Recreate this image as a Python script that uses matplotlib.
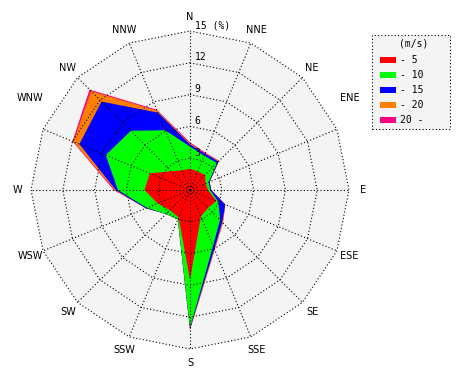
import numpy as np
import matplotlib.pyplot as plt
from matplotlib.patches import Rectangle

# ---------------------------
# Data (percent of time per direction and speed class)
# ---------------------------
directions = ["N", "NNE", "NE", "ENE", "E", "ESE", "SE", "SSE",
              "S", "SSW", "SW", "WSW", "W", "WNW", "NW", "NNW"]
speed_labels = ["- 5", "- 10", "- 15", "- 20", "20 -"]
colors = ["#ff0000", "#00ff00", "#0000ff", "#ff8000", "#ff0080"]

v_0_5 = [2.0, 1.9, 2.0, 1.6, 1.7, 2.7, 2.4, 2.7, 8.5, 2.8, 2.7, 3.3, 4.3, 4.1, 2.5, 2.0]
v_5_10 = [2.1, 1.6, 1.6, 0.3, 0.2, 0.2, 1.6, 3.0, 4.5, 0.2, 0.5, 1.1, 2.5, 4.5, 5.4, 4.1]
v_10_15 = [0.2, 0.2, 0.2, 0.1, 0.1, 0.7, 0.3, 0.3, 0.1, 0.0, 0.0, 0.1, 0.2, 2.7, 3.9, 1.8]
v_15_20 = [0.1, 0.0, 0.1, 0.0, 0.0, 0.0, 0.1, 0.1, 0.1, 0.0, 0.0, 0.0, 0.1, 0.6, 1.4, 0.2]
v_20_up = [0.1, 0.1, 0.0, 0.0, 0.0, 0.0, 0.0, 0.0, 0.0, 0.0, 0.0, 0.0, 0.1, 0.1, 0.2, 0.1]

rings = [3, 6, 9, 12, 15]

# ---------------------------
# Helpers
# ---------------------------
theta = np.deg2rad(np.arange(len(directions)) * 360.0 / len(directions))

def to_xy(r):
    r = np.asarray(r, dtype=float)
    x = r * np.sin(theta)
    y = r * np.cos(theta)
    return np.append(x, x[0]), np.append(y, y[0])

cum = np.cumsum([v_0_5, v_5_10, v_10_15, v_15_20, v_20_up], axis=0)
rmax = rings[-1]

# ---------------------------
# Figure
# ---------------------------
W, H = 470, 380
cx, cy = 190, 190
px = 159 / rmax  # pixels per percent

fig = plt.figure(figsize=(W / 100, H / 100), dpi=100)
ax = fig.add_axes([0, 0, 1, 1])
ax.set_xlim(-cx / px, (W - cx) / px)
ax.set_ylim(-(H - cy) / px, cy / px)
ax.axis("off")

# background of the rose
bx, by = to_xy(np.full(len(directions), rmax))
ax.fill(bx, by, color="#f4f4f4", lw=0, zorder=0)

# stacked speed classes, outermost first
for k in range(len(colors) - 1, -1, -1):
    x, y = to_xy(cum[k])
    ax.fill(x, y, color=colors[k], lw=0, zorder=1)

# dotted grid
dot = (0, (1, 2))
for r in rings:
    x, y = to_xy(np.full(len(directions), r))
    ax.plot(x, y, color="black", lw=0.8, ls=dot, zorder=2)
for t in theta:
    ax.plot([0, rmax * np.sin(t)], [0, rmax * np.cos(t)],
            color="black", lw=0.8, ls=dot, zorder=2)

# ring labels
for r in rings:
    lab = f"{r} (%)" if r == rmax else str(r)
    ax.text(0.45, r + 0.05, lab, fontsize=7, family="DejaVu Sans Mono",
            ha="left", va="bottom", zorder=3)

# direction labels (ENE / WNW sit higher in the original)
lab_angle = np.rad2deg(theta).copy()
lab_angle[directions.index("ENE")] = 60
lab_angle[directions.index("WNW")] = 300
lab_r = np.full(len(directions), 16.3)
lab_r[directions.index("ENE")] = 17.4
lab_r[directions.index("WNW")] = 17.4
for d, a, rr in zip(directions, np.deg2rad(lab_angle), lab_r):
    ax.text(rr * np.sin(a), rr * np.cos(a), d, fontsize=7,
            ha="center", va="center")

# ---------------------------
# Legend
# ---------------------------
def fx(p):
    return p / W

def fy(p):
    return 1 - p / H

fig.patches.append(Rectangle((fx(372), fy(129)), fx(450) - fx(372), fy(35) - fy(129),
                             transform=fig.transFigure, facecolor="#f4f4f4",
                             edgecolor="black", lw=0.8, ls=dot))
fig.text(fx(414), fy(44), "(m/s)", fontsize=7, family="DejaVu Sans Mono",
         ha="center", va="center")
for i, (lab, c) in enumerate(zip(speed_labels, colors)):
    yy = 60 + i * 15
    fig.patches.append(Rectangle((fx(380), fy(yy + 2.5)), fx(396) - fx(380), 5 / H,
                                 transform=fig.transFigure, facecolor=c, lw=0))
    fig.text(fx(400), fy(yy), lab, fontsize=7, family="DejaVu Sans Mono",
             ha="left", va="center")

fig.savefig("out.png", dpi=100)
